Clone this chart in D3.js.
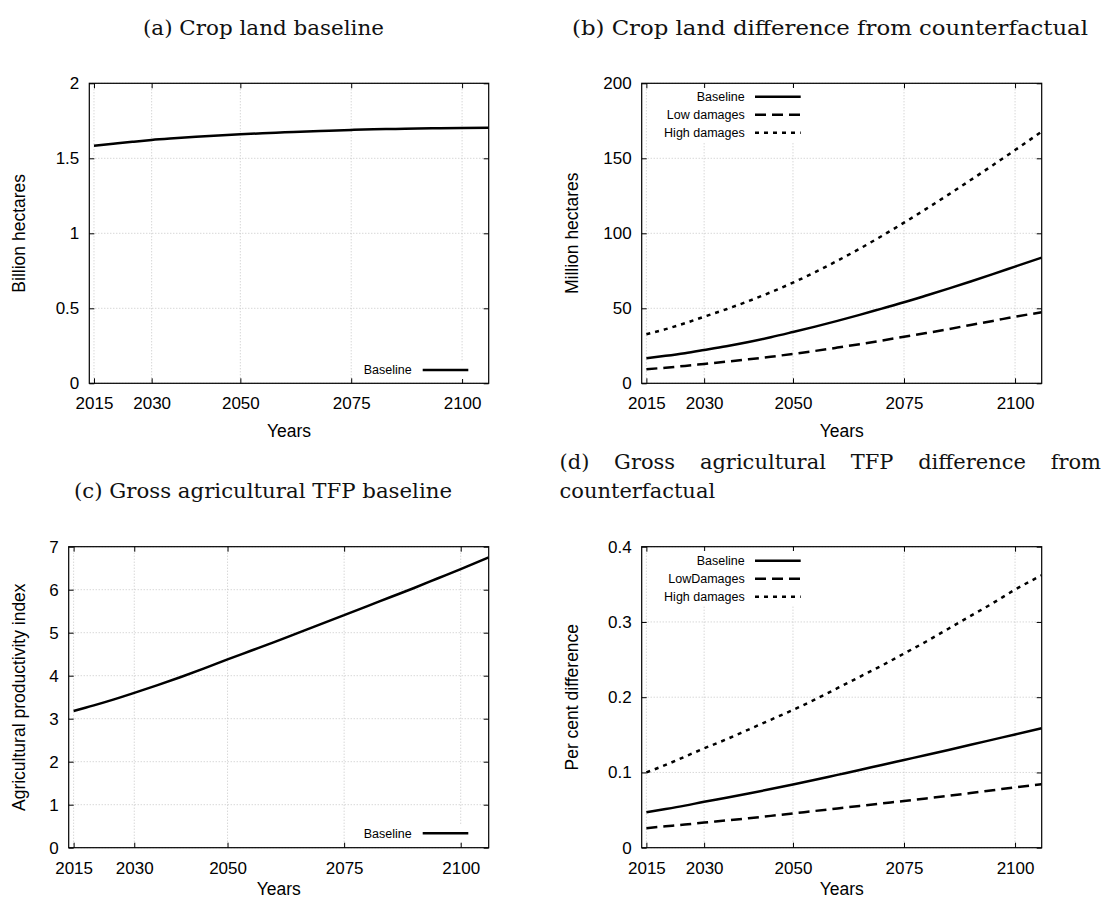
<!DOCTYPE html>
<html>
<head>
<meta charset="utf-8">
<script src="https://cdn.jsdelivr.net/npm/d3@7"></script>
<style>
  html, body { margin: 0; padding: 0; background: #fff; }
  svg { display: block; }
</style>
</head>
<body>
<svg id="chart" width="1106" height="900"></svg>
<script>
// ---------------- DATA ----------------
const years = [2015, 2020, 2025, 2030, 2035, 2040, 2045, 2050, 2055, 2060, 2065, 2070, 2075, 2080, 2085, 2090, 2095, 2100, 2106];
const xTickValues = [2015, 2030, 2050, 2075, 2100];
const xTickLabels = ["2015", "2030", "2050", "2075", "2100"];

// (a) Crop land baseline, billion hectares
const cropLandBaseline = [1.584, 1.597, 1.610, 1.622, 1.633, 1.643, 1.652, 1.660, 1.667, 1.673, 1.679, 1.684, 1.689, 1.693, 1.696, 1.699, 1.701, 1.702, 1.704];

// (b) Crop land difference from counterfactual, million hectares
const cropDiffBaseline = [16.7, 18.3, 20.1, 22.2, 24.7, 27.5, 30.7, 34.2, 37.8, 41.6, 45.6, 49.8, 54.0, 58.5, 63.1, 67.9, 72.8, 77.8, 83.8];
const cropDiffLow = [9.4, 10.4, 11.6, 12.9, 14.4, 16.0, 17.7, 19.6, 21.6, 23.8, 26.1, 28.5, 31.0, 33.5, 36.1, 38.9, 41.6, 44.4, 47.3];
const cropDiffHigh = [32.7, 36.1, 40.0, 44.4, 49.4, 54.8, 60.7, 67.1, 74.1, 81.7, 89.7, 98.2, 107.1, 116.3, 125.8, 135.5, 145.4, 155.5, 167.8];

// (c) Gross agricultural TFP baseline, index
const tfpBaseline = [3.18, 3.31, 3.45, 3.60, 3.78, 3.97, 4.17, 4.38, 4.58, 4.78, 4.99, 5.20, 5.41, 5.62, 5.83, 6.04, 6.26, 6.48, 6.75];

// (d) Gross agricultural TFP difference from counterfactual, per cent
const tfpDiffBaseline = [0.047, 0.0513, 0.0559, 0.061, 0.0664, 0.072, 0.0779, 0.084, 0.0903, 0.0968, 0.1033, 0.110, 0.1166, 0.1232, 0.1299, 0.1367, 0.1436, 0.1505, 0.1587];
const tfpDiffLow = [0.026, 0.0284, 0.0308, 0.0334, 0.0362, 0.0392, 0.0423, 0.0456, 0.0489, 0.0522, 0.0555, 0.0588, 0.0621, 0.0655, 0.069, 0.0726, 0.0764, 0.0802, 0.0845];
const tfpDiffHigh = [0.100, 0.110, 0.121, 0.132, 0.144, 0.157, 0.170, 0.183, 0.197, 0.212, 0.227, 0.242, 0.258, 0.274, 0.291, 0.308, 0.325, 0.343, 0.362];

const yTicksA = [0, 0.5, 1, 1.5, 2];
const yTicksB = [0, 50, 100, 150, 200];
const yTicksC = [0, 1, 2, 3, 4, 5, 6, 7];
const yTicksD = [0, 0.1, 0.2, 0.3, 0.4];

const titles = {
  a: "(a) Crop land baseline",
  b: "(b) Crop land difference from counterfactual",
  c: "(c) Gross agricultural TFP baseline",
  d1: ["(d)", "Gross", "agricultural", "TFP", "difference", "from"],
  d2: "counterfactual"
};

// ---------------- DRAWING ----------------
const svg = d3.select("#chart");
const SANS = "'Liberation Sans', Arimo, Arial, sans-serif";
const SERIF = "'DejaVu Serif', serif";

const defs = svg.append("defs");

function drawPanel(cfg, idx) {
  const { x0, x1, y0, y1 } = cfg;
  const W = x1 - x0;
  const x = d3.scaleLinear()
    .domain([2014, 2015, 2030, 2106])
    .range([x0, x0 + 0.0117 * W, x0 + 0.1561 * W, x1]);
  const y = d3.scaleLinear().domain(cfg.yDomain).range([y1, y0]);

  const g = svg.append("g");

  // grid
  const grid = g.append("g").attr("stroke", "#b8b8b8").attr("stroke-width", 0.8).attr("stroke-dasharray", "1,2");
  grid.selectAll("line.vx").data(xTickValues).enter().append("line")
    .attr("x1", d => x(d)).attr("x2", d => x(d)).attr("y1", y0).attr("y2", y1);
  grid.selectAll("line.hy").data(cfg.yTicks).enter().append("line")
    .attr("y1", d => y(d)).attr("y2", d => y(d)).attr("x1", x0).attr("x2", x1);

  // axes (ticks inward, mirrored)
  const bottom = g.append("g").attr("transform", `translate(0,${y1})`)
    .call(d3.axisBottom(x).tickValues(xTickValues).tickSize(-5).tickPadding(14)
      .tickFormat((d, i) => xTickLabels[i]));
  const top = g.append("g").attr("transform", `translate(0,${y0})`)
    .call(d3.axisTop(x).tickValues(xTickValues).tickSize(-5).tickFormat(""));
  const left = g.append("g").attr("transform", `translate(${x0},0)`)
    .call(d3.axisLeft(y).tickValues(cfg.yTicks).tickSize(-5).tickPadding(10).tickFormat(cfg.yFmt));
  const right = g.append("g").attr("transform", `translate(${x1},0)`)
    .call(d3.axisRight(y).tickValues(cfg.yTicks).tickSize(-5).tickFormat(""));
  [bottom, top, left, right].forEach(a => {
    a.select(".domain").remove();
    a.selectAll(".tick line").attr("stroke", "#000").attr("stroke-width", 1);
    a.selectAll("text").attr("font-family", SANS).attr("font-size", 17).attr("fill", "#000");
  });

  // legend background (opaque)
  const lg = cfg.legend;
  g.append("rect")
    .attr("x", lg.bx).attr("y", lg.by).attr("width", lg.bw).attr("height", lg.bh)
    .attr("fill", "#fff");

  // clip
  const clipId = "clip" + idx;
  defs.append("clipPath").attr("id", clipId).append("rect")
    .attr("x", x0).attr("y", y0).attr("width", W).attr("height", y1 - y0);

  const line = d3.line().curve(d3.curveMonotoneX).x((d, i) => x(years[i])).y(d => y(d));
  const lines = g.append("g").attr("clip-path", `url(#${clipId})`);
  cfg.series.forEach(s => {
    lines.append("path")
      .attr("d", line(s.values))
      .attr("fill", "none")
      .attr("stroke", "#000")
      .attr("stroke-width", 2.5)
      .attr("stroke-linejoin", "round")
      .attr("stroke-dasharray", s.dash || null);
  });

  // legend entries
  cfg.series.forEach((s, i) => {
    const ly = lg.y + i * lg.dy;
    g.append("text")
      .attr("x", lg.tx).attr("y", ly).attr("dy", "0.35em")
      .attr("text-anchor", "end")
      .attr("font-family", SANS).attr("font-size", 12.5).attr("fill", "#000")
      .text(s.name);
    g.append("line")
      .attr("x1", lg.lx1).attr("x2", lg.lx2).attr("y1", ly).attr("y2", ly)
      .attr("stroke", "#000").attr("stroke-width", 2.5)
      .attr("stroke-dasharray", s.dash || null);
  });

  // frame
  g.append("rect").attr("x", x0).attr("y", y0).attr("width", W).attr("height", y1 - y0)
    .attr("fill", "none").attr("stroke", "#000").attr("stroke-width", 1.2);

  // axis labels
  g.append("text")
    .attr("x", (x0 + x1) / 2).attr("y", y1 + cfg.xlabDy)
    .attr("text-anchor", "middle")
    .attr("font-family", SANS).attr("font-size", 17.5).attr("fill", "#000")
    .text("Years");
  g.append("text")
    .attr("transform", `translate(${cfg.ylabX},${(y0 + y1) / 2}) rotate(-90)`)
    .attr("text-anchor", "middle").attr("dy", "0.35em")
    .attr("font-family", SANS).attr("font-size", 17.5).attr("fill", "#000")
    .text(cfg.ylabel);
}

const fmtPlain = d => String(d);

drawPanel({
  x0: 89.3, x1: 488.7, y0: 83.3, y1: 383.3,
  yDomain: [0, 2], yTicks: yTicksA, yFmt: fmtPlain,
  ylabel: "Billion hectares", ylabX: 19, xlabDy: 54,
  series: [{ name: "Baseline", values: cropLandBaseline }],
  legend: { tx: 411.7, lx1: 422.7, lx2: 468.3, y: 370, dy: 18, bx: 376, by: 361, bw: 100, bh: 18 }
}, 0);

drawPanel({
  x0: 641.7, x1: 1041.7, y0: 83.3, y1: 383.3,
  yDomain: [0, 200], yTicks: yTicksB, yFmt: fmtPlain,
  ylabel: "Million hectares", ylabX: 572, xlabDy: 54,
  series: [
    { name: "Baseline", values: cropDiffBaseline },
    { name: "Low damages", values: cropDiffLow, dash: "11,6" },
    { name: "High damages", values: cropDiffHigh, dash: "4,5" }
  ],
  legend: { tx: 744.7, lx1: 755, lx2: 800.7, y: 96.7, dy: 18, bx: 660, by: 88, bw: 146, bh: 54 }
}, 1);

drawPanel({
  x0: 68.7, x1: 488.7, y0: 546.7, y1: 847.7,
  yDomain: [0, 7], yTicks: yTicksC, yFmt: fmtPlain,
  ylabel: "Agricultural productivity index", ylabX: 19, xlabDy: 47,
  series: [{ name: "Baseline", values: tfpBaseline }],
  legend: { tx: 411.7, lx1: 422.7, lx2: 468.3, y: 833.3, dy: 18, bx: 376, by: 824, bw: 100, bh: 18 }
}, 2);

drawPanel({
  x0: 641.7, x1: 1041.7, y0: 546.7, y1: 847.7,
  yDomain: [0, 0.4], yTicks: yTicksD, yFmt: fmtPlain,
  ylabel: "Per cent difference", ylabX: 572, xlabDy: 47,
  series: [
    { name: "Baseline", values: tfpDiffBaseline },
    { name: "LowDamages", values: tfpDiffLow, dash: "11,6" },
    { name: "High damages", values: tfpDiffHigh, dash: "4,5" }
  ],
  legend: { tx: 744.7, lx1: 755, lx2: 800.7, y: 560.7, dy: 18, bx: 660, by: 551, bw: 146, bh: 55 }
}, 3);

// ---------------- TITLES ----------------
const TFS = 21;
function title(txt, cx, by, width) {
  const t = svg.append("text")
    .attr("x", cx).attr("y", by).attr("text-anchor", "middle")
    .attr("font-family", SERIF).attr("font-size", TFS).attr("fill", "#111")
    .text(txt);
  if (width) t.attr("textLength", width).attr("lengthAdjust", "spacingAndGlyphs");
  return t;
}
title(titles.a, 263.5, 35, 241);
title(titles.b, 830, 35, 516);
title(titles.c, 263, 498, 378);

// (d) justified first line
(function () {
  const left = 559.5, right = 1101, base = 469;
  const ws = titles.d1.map(w => {
    const t = svg.append("text").attr("y", base)
      .attr("font-family", SERIF).attr("font-size", TFS).attr("fill", "#111").text(w);
    return { t, w: t.node().getComputedTextLength() };
  });
  const total = d3.sum(ws, d => d.w);
  const gap = (right - left - total) / (ws.length - 1);
  let cx = left;
  ws.forEach(d => { d.t.attr("x", cx); cx += d.w + gap; });
  svg.append("text").attr("x", left).attr("y", 498)
    .attr("font-family", SERIF).attr("font-size", TFS).attr("fill", "#111").text(titles.d2);
})();
</script>
</body>
</html>
